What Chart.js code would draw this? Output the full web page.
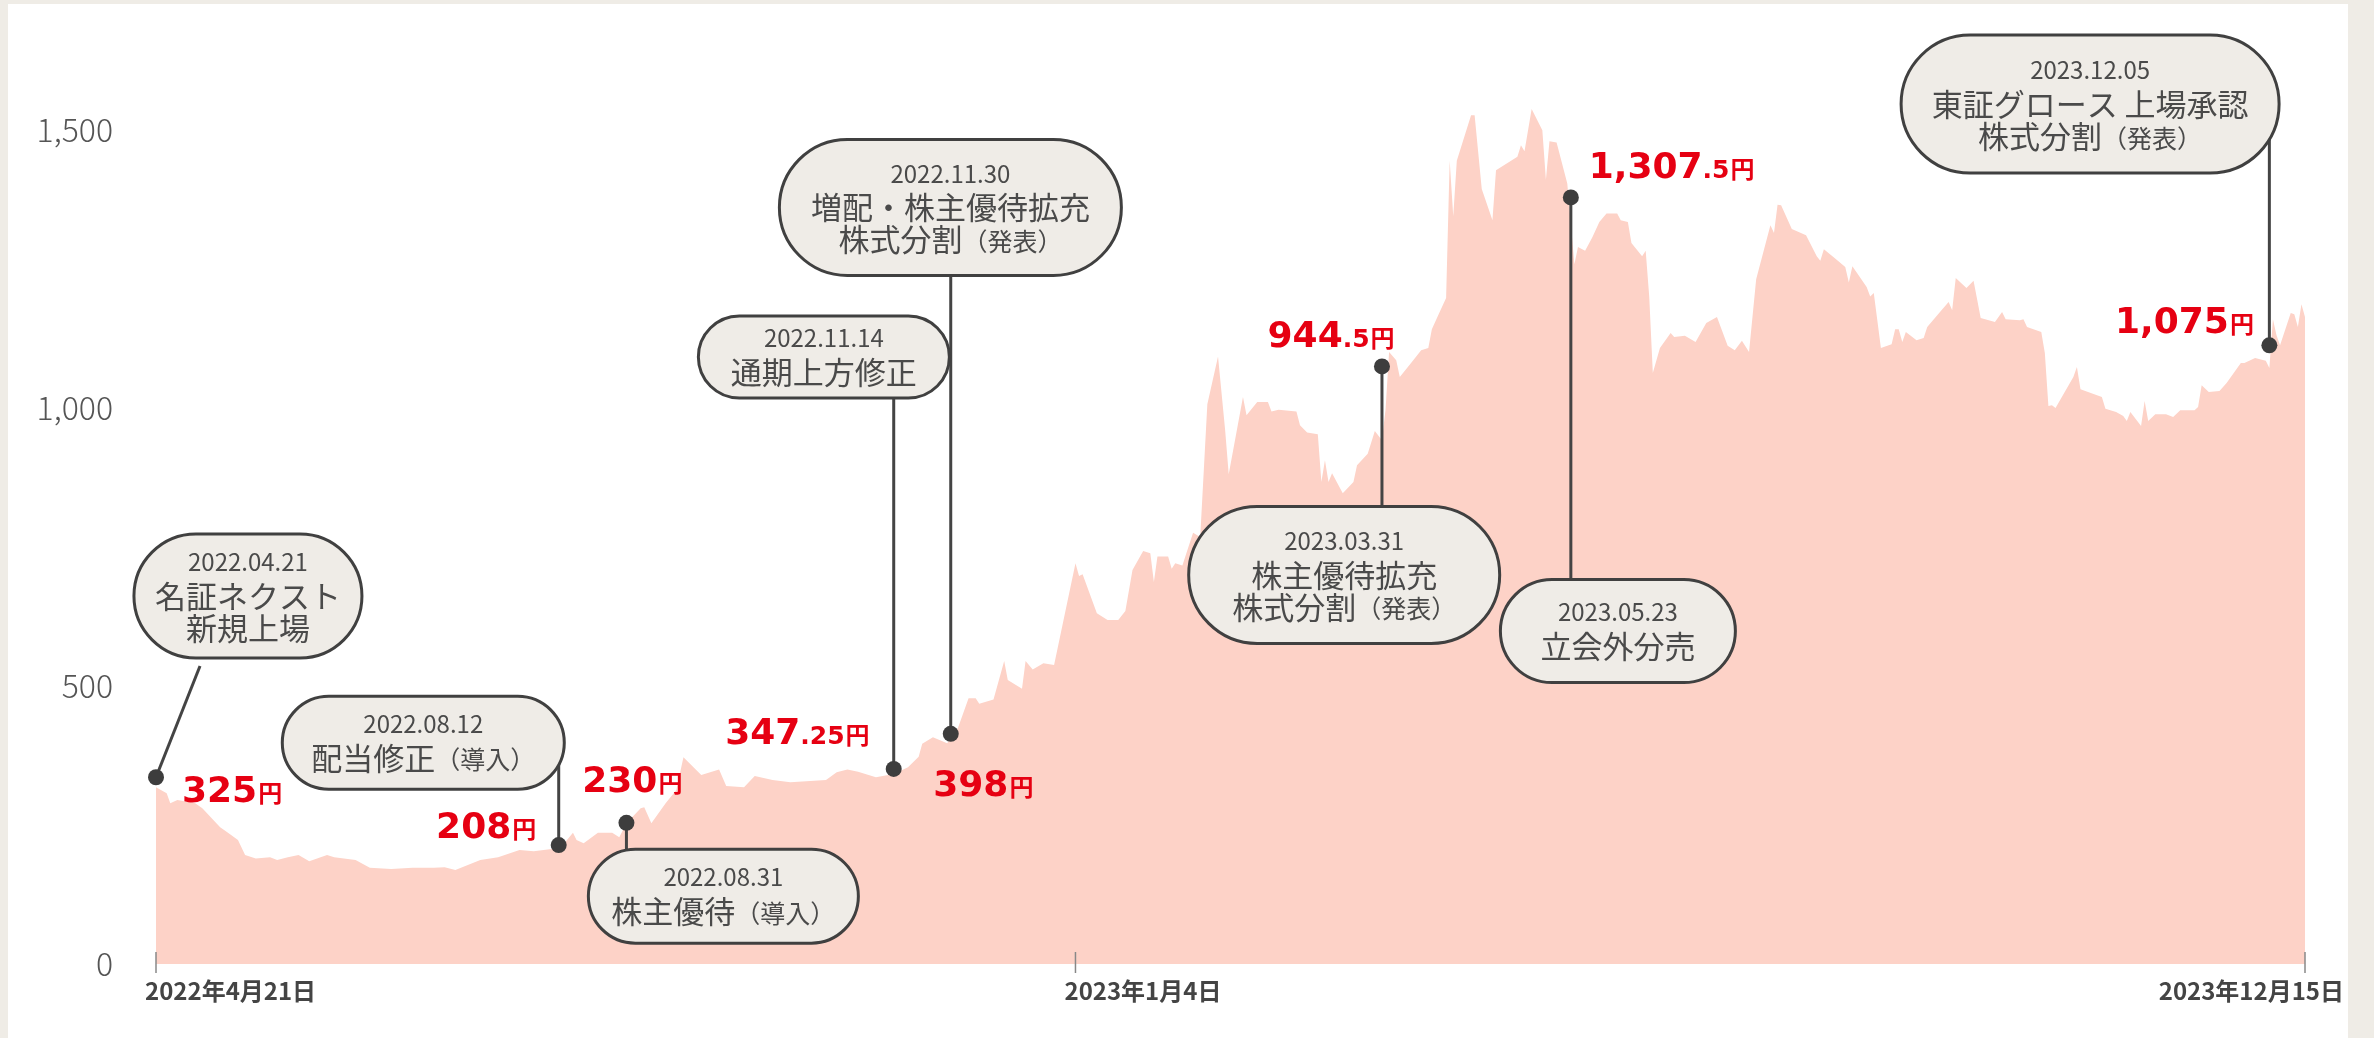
<!DOCTYPE html>
<html lang="ja">
<head>
<meta charset="utf-8">
<title>株価推移</title>
<script src="https://cdn.jsdelivr.net/npm/chart.js@4.4.1/dist/chart.umd.min.js"></script>
<style>
  html, body { margin:0; padding:0; background:#efece6; }
  #panel { position:absolute; left:8px; top:4px; width:2340px; height:1034px; background:#fff; }
  #stock { position:absolute; left:0; top:0; }
</style>
</head>
<body>
<div id="panel"></div>
<canvas id="stock" width="2374" height="1038"></canvas>
<script>
// days = 2022年4月21日からの経過日数
let days = [
  0, 3, 4, 6, 11, 13, 18, 20, 23, 25, 28, 32, 34, 37, 40, 43, 48, 50, 56, 60,
  66, 72, 78, 81, 84, 91, 96, 102, 106, 111, 113, 117, 118, 120, 124, 128, 130, 132, 136, 137,
  139, 143, 146, 148, 153, 158, 160, 165, 168, 173, 178, 188, 191, 194, 197, 202, 207, 211, 214, 215,
  218, 222, 225, 228, 230, 231, 235, 238, 239, 243, 244, 246, 249, 252, 258, 259, 260, 264, 267, 270,
  272, 274, 277, 279, 280, 281, 284, 285, 286, 288, 291, 293, 295, 298, 300, 301, 305, 306, 309, 312,
  313, 315, 320, 321, 323, 326, 327, 328, 329, 330, 333, 336, 337, 340, 342, 344, 345, 346, 348, 349,
  352, 355, 357, 358, 360, 362, 363, 364, 365, 369, 370, 372, 375, 376, 382, 383, 384, 386, 389, 390,
  391, 393, 396, 398, 399, 401, 403, 405, 407, 410, 411, 413, 414, 417, 418, 419, 420, 422, 425, 426,
  429, 432, 435, 438, 441, 443, 445, 447, 449, 453, 454, 455, 456, 459, 463, 466, 467, 468, 471, 474,
  475, 476, 480, 481, 482, 484, 487, 488, 489, 490, 491, 494, 496, 497, 501, 503, 504, 505, 508, 510,
  512, 516, 518, 519, 523, 524, 525, 529, 530, 531, 532, 533, 538, 539, 540, 546, 547, 550, 552, 553,
  554, 557, 558, 559, 561, 564, 566, 568, 572, 573, 574, 576, 579, 581, 585, 586, 589, 592, 593, 594,
  595, 596, 599, 600, 601, 602, 603
]
let prices = [
  318, 307, 289, 295, 289, 280, 246, 237, 223, 196, 190, 192, 187, 192, 196, 185, 196, 192, 187, 173,
  171, 173, 173, 174, 169, 187, 192, 205, 203, 207, 205, 236, 223, 217, 236, 236, 228, 253, 280, 282,
  253, 289, 313, 372, 340, 350, 320, 318, 338, 331, 327, 331, 345, 350, 346, 336, 342, 354, 373, 396,
  408, 397, 424, 478, 478, 468, 476, 545, 511, 495, 545, 530, 541, 538, 721, 698, 701, 631, 619, 619,
  635, 709, 743, 739, 687, 733, 733, 711, 721, 717, 776, 768, 1007, 1093, 960, 881, 1020, 987, 1011, 1011,
  994, 997, 994, 969, 956, 953, 867, 906, 867, 883, 847, 867, 897, 918, 959, 942, 997, 1101, 1086, 1056,
  1080, 1104, 1108, 1142, 1170, 1198, 1445, 1345, 1445, 1527, 1527, 1394, 1338, 1428, 1452, 1473, 1462, 1538, 1500, 1411,
  1480, 1478, 1404, 1259, 1290, 1283, 1307, 1335, 1350, 1350, 1338, 1335, 1297, 1273, 1283, 1200, 1063, 1108, 1135, 1128,
  1130, 1119, 1153, 1164, 1112, 1104, 1121, 1101, 1232, 1329, 1315, 1366, 1365, 1322, 1311, 1273, 1265, 1286, 1270, 1254,
  1226, 1255, 1218, 1201, 1207, 1108, 1115, 1142, 1142, 1119, 1137, 1122, 1126, 1146, 1176, 1191, 1176, 1234, 1216, 1229,
  1162, 1155, 1173, 1160, 1158, 1160, 1146, 1137, 1099, 1004, 1005, 1000, 1056, 1074, 1034, 1020, 999, 993, 986, 977,
  993, 968, 1013, 977, 989, 989, 984, 996, 996, 1002, 1041, 1029, 1031, 1045, 1081, 1081, 1090, 1085, 1072, 1160,
  1131, 1113, 1171, 1169, 1146, 1187, 1164
]

let yTicks = [0, 500, 1000, 1500]
let xTicks = [0, 258, 603]
let xTickLabels = ['2022年4月21日', '2023年1月4日', '2023年12月15日']

// 出来事 (x = 経過日数, y = 株価の目盛り)
let eventDays = [0, 113, 132, 207, 223, 344, 397, 593]
let eventDots = [336, 214, 254, 351, 414, 1075, 1379, 1113]
let eventPrices = ['325', '208', '230', '347.25', '398', '944.5', '1,307.5', '1,075']
let eventTexts = [
  ['2022.04.21', '名証ネクスト', '新規上場'],
  ['2022.08.12', '配当修正（導入）'],
  ['2022.08.31', '株主優待（導入）'],
  ['2022.11.14', '通期上方修正'],
  ['2022.11.30', '増配・株主優待拡充', '株式分割（発表）'],
  ['2023.03.31', '株主優待拡充', '株式分割（発表）'],
  ['2023.05.23', '立会外分売'],
  ['2023.12.05', '東証グロース 上場承認', '株式分割（発表）']
]
let bubbleAt = [[25.8, 662], [75, 398], [159.2, 122], [187.4, 1092], [222.9, 1361], [333.4, 700], [410.2, 599], [542.7, 1547]]
let bubbleSize = [[228, 124], [282, 93], [270, 94], [251, 82], [342, 136], [311, 137], [235, 103], [378, 138]]
let priceAt = [[7.3, 291], [78.6, 227], [119.6, 309], [159.7, 396], [218.1, 302], [311.9, 1110], [402, 1414], [549.7, 1135]]
let leaderFrom = [[12.35, 536], null, null, null, null, null, null, null]

let jp = '"Noto Sans CJK JP", "Noto Sans", sans-serif'

function pill(ctx, x, y, w, h) {
  let r = h / 2
  ctx.beginPath()
  ctx.moveTo(x + r, y)
  ctx.lineTo(x + w - r, y)
  ctx.arc(x + w - r, y + r, r, -Math.PI / 2, Math.PI / 2)
  ctx.lineTo(x + r, y + h)
  ctx.arc(x + r, y + r, r, Math.PI / 2, Math.PI * 1.5)
  ctx.closePath()
}

function bubbleLine(ctx, line, cx, cy, size) {
  let i = line.indexOf('（')
  let main = i < 0 ? line : line.slice(0, i)
  let sub = i < 0 ? '' : line.slice(i)
  ctx.font = size + 'px ' + jp
  let w1 = ctx.measureText(main).width
  ctx.font = '25px ' + jp
  let w2 = sub ? ctx.measureText(sub).width : 0
  let x = cx - (w1 + w2) / 2
  ctx.textAlign = 'left'
  ctx.textBaseline = 'middle'
  ctx.font = size + 'px ' + jp
  ctx.fillText(main, x, cy)
  if (sub) {
    ctx.font = '25px ' + jp
    ctx.fillText(sub, x + w1, cy + 2)
  }
}

function priceLabel(ctx, text, x, y) {
  let d = text.indexOf('.')
  let big = d < 0 ? text : text.slice(0, d)
  let small = d < 0 ? '' : text.slice(d)
  ctx.fillStyle = '#e60012'
  ctx.textAlign = 'left'
  ctx.textBaseline = 'alphabetic'
  ctx.font = 'bold 36px "DejaVu Sans", Verdana, sans-serif'
  ctx.fillText(big, x, y)
  x += ctx.measureText(big).width
  if (small) {
    ctx.font = 'bold 25px "DejaVu Sans", Verdana, sans-serif'
    ctx.fillText(small, x, y)
    x += ctx.measureText(small).width
  }
  ctx.font = 'bold 24px ' + jp
  ctx.fillText('円', x + 1, y)
}

let notes = {
  id: 'notes',
  afterDatasetsDraw(chart) {
    let ctx = chart.ctx
    let xs = chart.scales.x
    let ys = chart.scales.y
    let bottom = chart.chartArea.bottom
    ctx.save()

    // y axis labels
    ctx.fillStyle = '#555'
    ctx.font = '300 32px ' + jp
    ctx.textAlign = 'right'
    ctx.textBaseline = 'middle'
    yTicks.forEach(v => {
      ctx.fillText(v.toLocaleString('en-US'), 113, ys.getPixelForValue(v))
    })

    // x axis ticks and labels
    ctx.strokeStyle = '#888'
    ctx.lineWidth = 1.5
    ctx.fillStyle = '#444'
    ctx.font = 'bold 24px ' + jp
    ctx.textAlign = 'left'
    xTicks.forEach((v, i) => {
      let px = xs.getPixelForValue(v)
      ctx.beginPath()
      ctx.moveTo(px, bottom - 12)
      ctx.lineTo(px, bottom + 9)
      ctx.stroke()
      let w = ctx.measureText(xTickLabels[i]).width
      let lx = Math.min(px - 11, 2344 - w)
      ctx.fillText(xTickLabels[i], lx, bottom + 27)
    })

    // leader lines
    ctx.strokeStyle = '#444'
    ctx.lineWidth = 3
    eventDays.forEach((d, i) => {
      let px = xs.getPixelForValue(d)
      let py = ys.getPixelForValue(eventDots[i])
      ctx.beginPath()
      ctx.moveTo(px, py)
      if (leaderFrom[i]) {
        ctx.lineTo(xs.getPixelForValue(leaderFrom[i][0]), ys.getPixelForValue(leaderFrom[i][1]))
      } else {
        ctx.lineTo(px, ys.getPixelForValue(bubbleAt[i][1]))
      }
      ctx.stroke()
    })

    // bubbles
    eventTexts.forEach((lines, i) => {
      let cx = xs.getPixelForValue(bubbleAt[i][0])
      let cy = ys.getPixelForValue(bubbleAt[i][1])
      let w = bubbleSize[i][0]
      let h = bubbleSize[i][1]
      pill(ctx, cx - w / 2, cy - h / 2, w, h)
      ctx.fillStyle = '#efece7'
      ctx.fill()
      ctx.strokeStyle = '#404040'
      ctx.lineWidth = 3
      ctx.stroke()
      let offs = lines.length === 3 ? [-34, 0, 32] : [-19, 15]
      ctx.fillStyle = '#4a4a4a'
      lines.forEach((t, j) => {
        bubbleLine(ctx, t, cx, cy + offs[j], j === 0 ? 24 : 31)
      })
    })

    // dots
    ctx.fillStyle = '#3d3d3d'
    eventDays.forEach((d, i) => {
      ctx.beginPath()
      ctx.arc(xs.getPixelForValue(d), ys.getPixelForValue(eventDots[i]), 8, 0, Math.PI * 2)
      ctx.fill()
    })

    // prices
    eventPrices.forEach((p, i) => {
      priceLabel(ctx, p, xs.getPixelForValue(priceAt[i][0]), ys.getPixelForValue(priceAt[i][1]))
    })
    ctx.restore()
  }
}

let stock = document.querySelector('#stock').getContext('2d')

let chart = new Chart(stock, {
  type: 'line',
  data: {
    datasets: [{
      data: days.map((d, i) => ({ x: d, y: prices[i] })),
      fill: 'origin',
      backgroundColor: '#fdd2c7',
      borderWidth: 0,
      pointRadius: 0,
      tension: 0
    }]
  },
  options: {
    responsive: false,
    animation: false,
    devicePixelRatio: 1,
    layout: { padding: { top: 19, right: 69, left: 0, bottom: 0 } },
    plugins: {
      legend: { display: false },
      tooltip: { enabled: false }
    },
    scales: {
      x: {
        type: 'linear',
        min: 0,
        max: 603,
        grid: { display: false, drawTicks: false },
        border: { display: false },
        ticks: { display: false },
        afterFit: s => { s.height = 74 }
      },
      y: {
        min: 0,
        max: 1700,
        grid: { display: false, drawTicks: false },
        border: { display: false },
        ticks: { display: false },
        afterFit: s => { s.width = 156 }
      }
    }
  },
  plugins: [notes]
})
</script>
</body>
</html>
